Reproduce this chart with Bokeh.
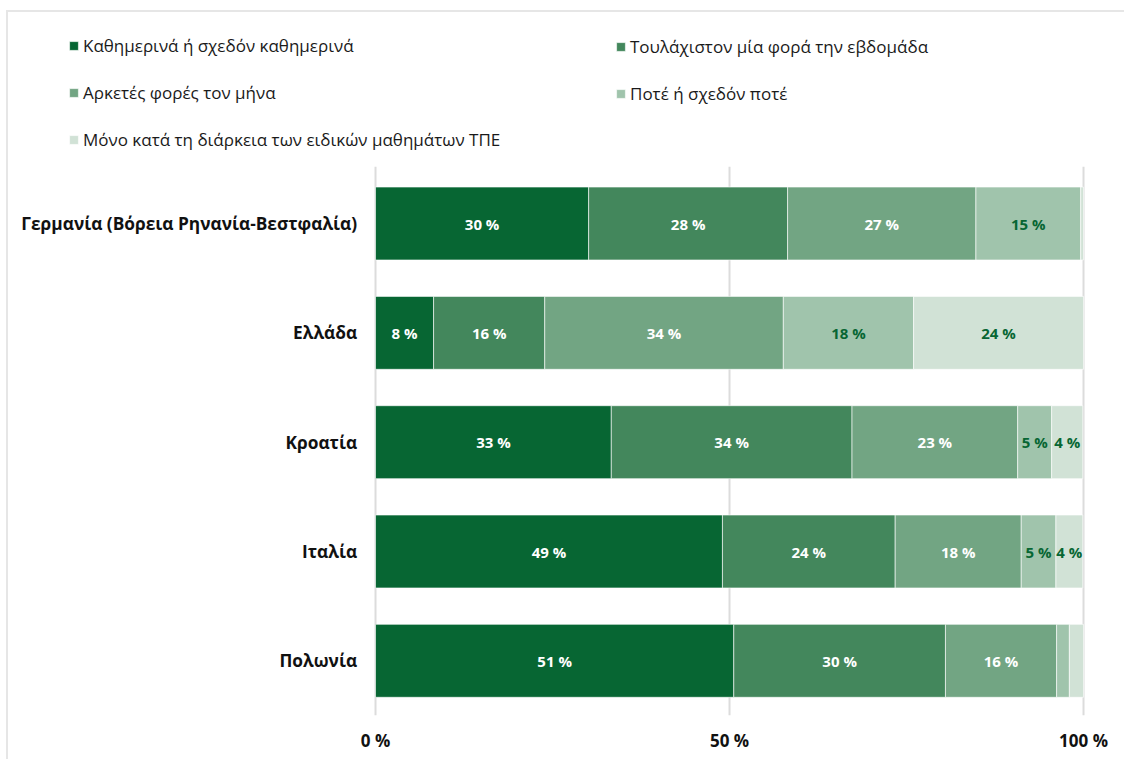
from bokeh.plotting import figure
from bokeh.models import ColumnDataSource, Range1d, Legend, LegendItem, FixedTicker, CustomJSTickFormatter
from bokeh.core.properties import value
from bokeh.embed import file_html
from bokeh.resources import INLINE

countries = ["Γερμανία (Βόρεια Ρηνανία-Βεστφαλία)", "Ελλάδα", "Κροατία", "Ιταλία", "Πολωνία"]
series = ["Καθημερινά ή σχεδόν καθημερινά",
          "Τουλάχιστον μία φορά την εβδομάδα",
          "Αρκετές φορές τον μήνα",
          "Ποτέ ή σχεδόν ποτέ",
          "Μόνο κατά τη διάρκεια των ειδικών μαθημάτων ΤΠΕ"]
daily = [30.1, 8.2, 33.3, 49.0, 50.6]
weekly = [28.1, 15.7, 34.0, 24.4, 29.9]
monthly = [26.6, 33.7, 23.4, 17.8, 15.7]
never = [14.8, 18.4, 4.8, 4.9, 1.8]
ict_only = [0.4, 24.0, 4.4, 3.8, 2.0]
x_ticks = [0, 50, 100]

colors = ["#076633", "#43875c", "#72a583", "#a0c4ac", "#d1e2d6"]
label_colors = ["#ffffff", "#ffffff", "#ffffff", "#076633", "#076633"]
keys = ["s0", "s1", "s2", "s3", "s4"]
vals = [daily, weekly, monthly, never, ict_only]

n = len(countries)
ypos = [n - 1 - i for i in range(n)]  # first country on top

data = {"country": countries, "y": ypos}
for k, v in zip(keys, vals):
    data[k] = v
src = ColumnDataSource(data)

FONT = "Open Sans"
W, H = 1118, 749
FRAME_H = 703

p = figure(width=W, height=H, x_range=Range1d(-51.84, 106.07), y_range=Range1d(-0.5, 5.93),
           output_backend="svg", toolbar_location=None,
           min_border_left=0, min_border_right=0, min_border_top=0, min_border_bottom=H - FRAME_H)
p.styles = {"margin-left": "6px", "margin-top": "10px",
            "border-left": "2px solid #e6e6e6", "border-top": "2px solid #e6e6e6"}
p.outline_line_color = None
p.yaxis.visible = False
p.grid.visible = False

# vertical grid lines (behind bars)
p.segment(x0=x_ticks, x1=x_ticks, y0=[-0.5] * len(x_ticks), y1=[n - 0.48] * len(x_ticks),
          line_color="#dcdcdc", line_width=2)

renderers = p.hbar_stack(keys, y="y", height=0.667, color=colors, source=src,
                         line_color="white", line_width=0.6)

# category labels
p.text(x=[-2.6] * n, y=ypos, text=countries, text_align="right", text_baseline="middle",
       text_font=value(FONT), text_font_style="bold", text_font_size="17.3px", text_color="#111111")

# value labels
lx, ly, lt, lc = [], [], [], []
for i in range(n):
    left = 0.0
    for j, v in enumerate(vals):
        val = v[i]
        if val >= 3.5:
            lx.append(left + val / 2)
            ly.append(ypos[i])
            lt.append(f"{int(val + 0.5)} %")
            lc.append(label_colors[j])
        left += val
lsrc = ColumnDataSource(dict(x=lx, y=ly, t=lt, c=lc))
p.text(x="x", y="y", text="t", text_color="c", source=lsrc, text_align="center",
       text_baseline="middle", text_font=value(FONT), text_font_style="bold",
       text_font_size="15px")

# x axis
p.xaxis.ticker = FixedTicker(ticks=x_ticks)
p.xaxis.formatter = CustomJSTickFormatter(code="return tick + ' %';")
p.xaxis.axis_line_color = None
p.xaxis.major_tick_line_color = None
p.xaxis.minor_tick_line_color = None
p.xaxis.major_label_text_font = FONT
p.xaxis.major_label_text_font_style = "bold"
p.xaxis.major_label_text_font_size = "17px"
p.xaxis.major_label_text_color = "#111111"
p.xaxis.major_label_standoff = 7

# legends
LH, SP = 22, 24
def make_legend(idx, loc):
    items = [LegendItem(label=series[i], renderers=[renderers[i]]) for i in idx]
    lg = Legend(items=items, location=loc, orientation="vertical",
                label_text_font=FONT, label_text_font_size="17px", label_text_color="#1a1a1a",
                glyph_width=11, glyph_height=11, label_height=LH, spacing=SP,
                label_standoff=4, padding=0, margin=0,
                border_line_color=None, background_fill_alpha=0)
    p.add_layout(lg, "center")

TOP = 25
make_legend([0, 2, 4], (60, FRAME_H - TOP - (3 * LH + 2 * SP)))
make_legend([1, 3], (607, FRAME_H - TOP - (2 * LH + SP)))

open("out.html", "w").write(file_html(p, INLINE))
